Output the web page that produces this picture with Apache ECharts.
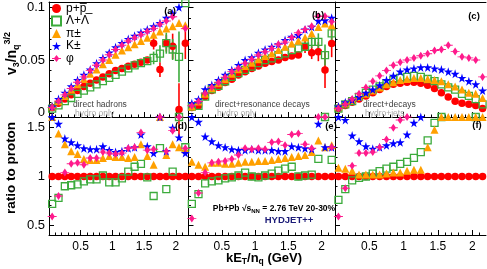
<!DOCTYPE html>
<html><head><meta charset="utf-8">
<script src="https://cdn.jsdelivr.net/npm/echarts@6/dist/echarts.min.js"></script>
<style>html,body{margin:0;padding:0;background:#fff}#c{width:487px;height:269px}</style>
</head><body><div id="c"></div>
<script>
// ---------------- DATA ----------------
const kET = [0.05,0.15,0.25,0.35,0.45,0.55,0.65,0.75,0.85,0.95,1.05,1.15,1.25,1.35,1.45,1.55,1.65,1.75,1.85,1.95,2.05,2.15];

// (a) direct hadrons, v3/nq^{3/2}
const p_a   = [0.005,0.009,0.013,0.017,0.021,0.025,0.028,0.031,0.034,0.037,0.040,0.042,0.044,0.046,0.048,0.050,0.066,0.041,0.066,0.063,0.003,0.066];
const p_a_err = [0,0,0,0,0,0,0,0,0,0,0,0,0,0,0,0,0.006,0.007,0.008,0.012,0.025,0.015];
const lam_a = [0.004,0.007,0.011,0.014,0.018,0.021,0.024,0.027,0.030,0.033,0.036,0.039,0.042,0.045,0.047,0.049,0.052,0.056,0.066,0.060,0.053,0.104];
const lam_a_err = [0,0,0,0,0,0,0,0,0,0,0,0,0,0,0,0,0.006,0.008,0.010,0.010,0.024,0];
const pi_a  = [0.006,0.011,0.016,0.022,0.027,0.032,0.037,0.041,0.046,0.050,0.055,0.059,0.062,0.065,0.068,0.071,0.074,0.077,0.080,0.082,0.085,0.083];
const k_a   = [0.006,0.013,0.019,0.025,0.031,0.036,0.041,0.047,0.052,0.057,0.062,0.066,0.070,0.073,0.076,0.079,0.082,0.085,0.090,0.094,0.100,null];
const phi_a = [0.005,0.011,0.017,0.023,0.029,0.034,0.040,0.045,0.050,0.055,0.060,0.064,0.068,0.071,0.074,0.077,0.080,0.084,0.087,0.091,null,0.080];

// (b) direct + resonance decays
const p_b   = [0.005,0.0066,0.0154,0.021,0.0242,0.0286,0.0318,0.0359,0.039,0.042,0.0444,0.047,0.0485,0.050,0.0525,0.0538,0.0547,0.0626,0.0569,0.0579,0.0406,0.0657];
const p_b_err = [0,0,0,0,0,0,0,0,0,0,0,0,0,0,0,0,0,0.006,0.006,0.009,0.017,0.013];
const lam_b = [0.0059,0.0066,0.0154,0.0223,0.0255,0.0299,0.034,0.0375,0.0406,0.0437,0.047,0.050,0.0516,0.0547,0.0563,0.0594,0.061,0.0626,0.0673,0.0673,0.0547,0.0752];
const lam_b_err = [0,0,0,0,0,0,0,0,0,0,0,0,0,0,0,0,0,0,0.006,0.008,0.010,0.010];
const pi_b  = [0.006,0.0107,0.018,0.0233,0.028,0.0318,0.0369,0.0412,0.0444,0.0475,0.0507,0.0538,0.0563,0.0594,0.0626,0.0657,0.0682,0.0714,0.0752,0.0814,0.0846,0.083];
const k_b   = [0.009,0.0127,0.0223,0.0264,0.031,0.0359,0.0406,0.0453,0.050,0.0525,0.0569,0.060,0.0626,0.065,0.0689,0.072,0.0736,0.079,0.0814,0.0871,0.0877,0.090];
const phi_b = [0.0066,0.0107,0.0186,0.0242,0.0286,0.0337,0.039,0.0422,0.047,0.0507,0.0547,0.0579,0.061,0.065,0.067,0.0714,0.0758,0.079,0.0821,0.0915,0.0915,0.0862];

// (c) direct + decays, hydro+jets
const p_c   = [0.004,0.007,0.010,0.013,0.016,0.019,0.022,0.025,0.027,0.028,0.029,0.029,0.028,0.026,0.023,0.019,0.015,0.011,0.009,0.008,0.007,0.004];
const lam_c = [0.004,0.008,0.011,0.015,0.019,0.022,0.025,0.028,0.031,0.033,0.034,0.035,0.034,0.032,0.030,0.027,0.024,0.022,0.018,0.016,0.013,0.008];
const pi_c  = [0.006,0.009,0.012,0.015,0.018,0.021,0.024,0.027,0.029,0.031,0.032,0.033,0.033,0.032,0.031,0.030,0.027,0.025,0.022,0.019,0.018,0.014];
const k_c   = [0.006,0.010,0.012,0.015,0.019,0.022,0.026,0.031,0.035,0.039,0.041,0.042,0.043,0.043,0.042,0.041,0.039,0.037,0.033,0.030,0.027,0.021];
const phi_c = [0.004,0.008,0.013,0.018,0.024,0.030,0.035,0.040,0.045,0.048,0.050,0.052,0.054,0.056,0.059,0.060,0.064,0.058,0.053,0.052,0.050,0.034];

// (d) ratio to proton, direct hadrons
const p_d   = [1,1,1,1,1,1,1,1,1,1,1,1,1,1,1,1,1,1,1,1,1,1];
const lam_d = [0.72,0.78,0.90,0.91,0.92,0.95,0.97,0.97,1.01,0.94,0.94,0.98,1.05,1.10,1.13,0.99,0.80,1.29,0.87,1.05,1.61,1.30];
const pi_d  = [1.61,1.44,1.33,1.26,1.23,1.18,1.17,1.17,1.19,1.21,1.20,1.20,1.19,1.20,1.33,1.21,1.12,1.61,1.22,1.33,1.30,1.28];
const k_d   = [1.61,1.54,1.39,1.35,1.32,1.29,1.28,1.28,1.31,1.27,1.25,1.26,1.29,1.30,1.43,1.31,1.24,1.61,1.26,1.50,1.40,1.24];
const phi_d = [0.59,0.80,1.04,1.13,1.14,1.12,1.19,1.19,1.25,1.24,1.23,1.24,1.29,1.30,1.45,1.27,1.28,1.61,1.26,1.47,1.61,1.29];

// (e) ratio to proton, direct + resonance decays
const p_e   = [1,1,1,1,1,1,1,1,1,1,1,1,1,1,1,1,1,1,1,1,1,1];
const lam_e = [0.72,0.82,0.93,0.95,0.96,0.98,0.99,1.01,1.04,1.00,0.99,1.01,1.03,1.06,1.08,1.10,1.00,1.01,1.02,1.18,1.61,1.17];
const pi_e  = [1.15,1.12,1.10,1.14,1.14,1.13,1.13,1.14,1.15,1.15,1.16,1.16,1.17,1.18,1.19,1.20,1.21,1.22,1.25,1.37,1.30,1.32];
const k_e   = [1.61,1.56,1.41,1.36,1.32,1.30,1.28,1.27,1.27,1.28,1.27,1.27,1.27,1.26,1.26,1.31,1.30,1.29,1.28,1.54,1.30,1.30];
const phi_e = [0.57,0.83,1.04,1.14,1.15,1.16,1.18,1.22,1.29,1.28,1.29,1.28,1.35,1.36,1.32,1.43,1.44,1.33,1.29,1.61,1.61,1.30];

// (f) ratio to proton, direct + decays, hydro+jets
const p_f   = [1,1,1,1,1,1,1,1,1,1,1,1,1,1,1,1,1,1,1,1,1,1];
const lam_f = [0.76,0.87,0.96,0.985,1.00,1.03,1.055,1.08,1.10,1.13,1.15,1.19,1.25,1.37,1.55,1.61,null,null,null,null,1.61,null];
const pi_f  = [1.09,1.08,1.06,1.02,1.02,1.02,1.02,1.03,1.04,1.04,1.06,1.07,1.07,1.30,1.48,1.61,1.61,1.61,1.61,1.61,1.61,1.61];
const k_f   = [1.61,1.58,1.42,1.36,1.31,1.285,1.30,1.32,1.34,1.35,1.43,1.55,1.61,null,null,null,null,null,null,null,null,null];
const phi_f = [0.59,0.88,1.11,1.24,1.24,1.25,1.30,1.38,1.50,1.58,1.61,null,null,null,null,null,null,null,null,null,null,null];

// tick values
const xMajorTicks = [0.5,1,1.5,2];
const xMinorTicks = [0.1,0.2,0.3,0.4,0.6,0.7,0.8,0.9,1.1,1.2,1.3,1.4,1.6,1.7,1.8,1.9,2.1];
const yTopMajor = [0,0.05,0.1];
const yTopMinor = [0.01,0.02,0.03,0.04,0.06,0.07,0.08,0.09];
const yBotMajor = [0.5,1,1.5];
const yBotMinor = [0.6,0.7,0.8,0.9,1.1,1.2,1.3,1.4];

const speciesNames = ['p+p\u0305','\u039b+\u039b\u0305','\u03c0\u00b1','K\u00b1','\u03c6'];

// ---------------- LAYOUT / STYLE ----------------
const F = '"Liberation Sans", Arial, Helvetica, sans-serif';
const cols = [[49,139.5],[188.5,146.5],[335,151]];
const rows = [[2,115],[117,118]];
const yRanges = [[-0.004,0.105],[0.4,1.61]];
const starPath = 'path://M50,0L61,35L98,35L68,57L79,91L50,70L21,91L32,57L2,35L39,35Z';
const phiPath = 'path://M5,0L8,4L5,8L2,4Z M0,3.55L10,3.55L10,4.45L0,4.45Z';
const SP = [
  {color:'#ff0000', symbol:'circle', size:7.5, fill:true},
  {color:'#3cab3c', symbol:'rect', size:7, fill:false},
  {color:'#ffa000', symbol:'triangle', size:8, fill:true},
  {color:'#0000ff', symbol:starPath, size:9, fill:true},
  {color:'#ff1a8c', symbol:phiPath, size:[9,8], fill:true}
];
const panels = [
  [p_a,lam_a,pi_a,k_a,phi_a],
  [p_b,lam_b,pi_b,k_b,phi_b],
  [p_c,lam_c,pi_c,k_c,phi_c],
  [p_d,lam_d,pi_d,k_d,phi_d],
  [p_e,lam_e,pi_e,k_e,phi_e],
  [p_f,lam_f,pi_f,k_f,phi_f]
];
const errs = [
  [[0,p_a,p_a_err],[1,lam_a,lam_a_err]],
  [[0,p_b,p_b_err],[1,lam_b,lam_b_err]],
  [],[],[],[]
];

const grids=[], xAxes=[], yAxes=[], series=[];
const xMainIdx=[], yMainIdx=[];
for (let g=0; g<6; g++) {
  const r = Math.floor(g/3), c = g%3;
  grids.push({left:cols[c][0], width:cols[c][1], top:rows[r][0], height:rows[r][1], containLabel:false, outerBoundsMode:'none'});
  const fmt = v => String(+v.toFixed(3));
  xMainIdx.push(xAxes.length);
  xAxes.push({gridIndex:g, type:'value', min:0, max:2.2, position:'bottom',
    axisLine:{show:true, onZero:false, lineStyle:{color:'#000', width:1}},
    axisTick:{show:true, inside:true, length:5, customValues:xMajorTicks, lineStyle:{color:'#000', width:1}},
    axisLabel:{show:r===1, customValues:xMajorTicks, fontSize:12, color:'#000', fontFamily:F, margin:6, formatter:fmt},
    splitLine:{show:false}});
  xAxes.push({gridIndex:g, type:'value', min:0, max:2.2, position:'bottom',
    axisLine:{show:false, onZero:false},
    axisTick:{show:true, inside:true, length:2.5, customValues:xMinorTicks, lineStyle:{color:'#000', width:1}},
    axisLabel:{show:false}, splitLine:{show:false}});
  if (r===0) {
    xAxes.push({gridIndex:g, type:'value', min:0, max:2.2, position:'top',
      axisLine:{show:true, onZero:false, lineStyle:{color:'#000', width:1}},
      axisTick:{show:false}, axisLabel:{show:false}, splitLine:{show:false}});
  }
  const maj = r===0 ? yTopMajor : yBotMajor, mnr = r===0 ? yTopMinor : yBotMinor;
  yMainIdx.push(yAxes.length);
  yAxes.push({gridIndex:g, type:'value', min:yRanges[r][0], max:yRanges[r][1], position:'left',
    axisLine:{show:true, onZero:false, lineStyle:{color:'#000', width:1}},
    axisTick:{show:true, inside:true, length:5, customValues:maj, lineStyle:{color:'#000', width:1}},
    axisLabel:{show:c===0, customValues:maj, fontSize:13, color:'#000', fontFamily:F, margin:4, formatter:fmt},
    splitLine:{show:false}});
  yAxes.push({gridIndex:g, type:'value', min:yRanges[r][0], max:yRanges[r][1], position:'left',
    axisLine:{show:false, onZero:false},
    axisTick:{show:true, inside:true, length:2.5, customValues:mnr, lineStyle:{color:'#000', width:1}},
    axisLabel:{show:false}, splitLine:{show:false}});
}

// error bars (drawn below markers)
for (let g=0; g<6; g++) {
  errs[g].forEach(([s,vals,e]) => {
    const data = [];
    kET.forEach((x,i) => { if (vals[i]!=null && e[i]>0) data.push([x, vals[i]-e[i], vals[i]+e[i]]); });
    series.push({type:'custom', name:'err'+g+'_'+s, xAxisIndex:xMainIdx[g], yAxisIndex:yMainIdx[g],
      data, clip:false, z:1, silent:true, encode:{x:0, y:[1,2]},
      renderItem:(params, api) => {
        const a = api.coord([api.value(0), api.value(1)]), b = api.coord([api.value(0), api.value(2)]);
        return {type:'line', shape:{x1:a[0], y1:a[1], x2:b[0], y2:b[1]}, style:{stroke:SP[s].color, lineWidth:1.6}};
      }});
  });
}
for (let g=0; g<6; g++) {
  for (let s=0; s<5; s++) {
    const arr = panels[g][s];
    const data = [];
    kET.forEach((x,i) => { if (arr[i]!=null) data.push([x, arr[i]]); });
    const sp = SP[s];
    series.push({type:'scatter', name:speciesNames[s], xAxisIndex:xMainIdx[g], yAxisIndex:yMainIdx[g],
      data, symbol:sp.symbol, symbolSize:sp.size, clip:false, z:2, silent:true,
      itemStyle: sp.fill ? {color:sp.color, opacity:1} : {color:'rgba(255,255,255,0)', borderColor:sp.color, borderWidth:1.3, opacity:1}});
  }
}

const txt = (x,y,text,opt) => Object.assign({type:'text', x, y, silent:true, z:100,
  style:Object.assign({text, fontFamily:F, fill:'#000'}, opt||{})});
const graphics = [
  txt(170,11.5,'(a)',{fontSize:9.5,fontWeight:'bold',align:'center',verticalAlign:'middle'}),
  txt(318,15,'(b)',{fontSize:9.5,fontWeight:'bold',align:'center',verticalAlign:'middle'}),
  txt(474,16,'(c)',{fontSize:9.5,fontWeight:'bold',align:'center',verticalAlign:'middle'}),
  txt(181,126,'(d)',{fontSize:9.5,fontWeight:'bold',align:'center',verticalAlign:'middle'}),
  txt(331,126,'(e)',{fontSize:9.5,fontWeight:'bold',align:'center',verticalAlign:'middle'}),
  txt(477,125,'(f)',{fontSize:9.5,fontWeight:'bold',align:'center',verticalAlign:'middle'}),
  txt(73,105,'direct hadrons',{fontSize:8.5,fill:'#404040',verticalAlign:'middle'}),
  txt(75,113.5,'hydro only',{fontSize:8.5,fill:'#a8a8a8',verticalAlign:'middle'}),
  txt(215,105,'direct+resonance decays',{fontSize:8.5,fill:'#404040',verticalAlign:'middle'}),
  txt(217,113.5,'hydro only',{fontSize:8.5,fill:'#a8a8a8',verticalAlign:'middle'}),
  txt(363,105,'direct+decays',{fontSize:8.5,fill:'#404040',verticalAlign:'middle'}),
  txt(365,113.5,'hydro+jets',{fontSize:8.5,fill:'#a8a8a8',verticalAlign:'middle'}),
  {type:'text', x:274, y:208.5, silent:true, z:100, style:{text:'{b|Pb+Pb \u221as}{s|NN}{b| = 2.76 TeV 20-30%}', align:'center', verticalAlign:'middle',
    rich:{b:{fontFamily:F,fontSize:8.5,fontWeight:'bold',fill:'#000',lineHeight:12,verticalAlign:'middle'},
          s:{fontFamily:F,fontSize:6,fontWeight:'bold',fill:'#000',lineHeight:6,verticalAlign:'bottom'}}}},
  txt(289,220,'HYDJET++',{fontSize:9.5,fontWeight:'bold',fill:'#1c1c78',align:'center',verticalAlign:'middle'}),
  {type:'text', x:12, y:53.5, rotation:Math.PI/2, silent:true, style:{text:'{b|v}{s|3}{b|/n}{s|q}{p|3/2}', align:'center', verticalAlign:'middle',
    rich:{b:{fontFamily:F,fontSize:14,fontWeight:'bold',fill:'#000',lineHeight:18,verticalAlign:'middle'},
          s:{fontFamily:F,fontSize:9,fontWeight:'bold',fill:'#000',lineHeight:9,verticalAlign:'bottom'},
          p:{fontFamily:F,fontSize:9,fontWeight:'bold',fill:'#000',lineHeight:9,verticalAlign:'top'}}}},
  {type:'text', x:11, y:168, rotation:Math.PI/2, silent:true, style:{text:'ratio to proton', align:'center', verticalAlign:'middle',
    fontFamily:F, fontSize:13.5, fontWeight:'bold', fill:'#000'}},
  {type:'text', x:264, y:258, silent:true, style:{text:'{b|kE}{s|T}{b|/n}{s|q}{b| (GeV)}', align:'center', verticalAlign:'middle',
    rich:{b:{fontFamily:F,fontSize:13,fontWeight:'bold',fill:'#000',lineHeight:17,verticalAlign:'middle'},
          s:{fontFamily:F,fontSize:8.5,fontWeight:'bold',fill:'#000',lineHeight:8,verticalAlign:'bottom'}}}}
];

const chart = echarts.init(document.getElementById('c'), null, {renderer:'canvas'});
chart.setOption({
  animation:false,
  backgroundColor:'#fff',
  grid:grids, xAxis:xAxes, yAxis:yAxes, series,
  legend:{data:speciesNames, left:51, top:2.5, orient:'vertical', itemWidth:9, itemHeight:9, itemGap:0.5,
    selectedMode:false, padding:0, textStyle:{fontFamily:F, fontSize:12, color:'#000', lineHeight:12}},
  graphic:graphics
});
</script>
</body></html>
